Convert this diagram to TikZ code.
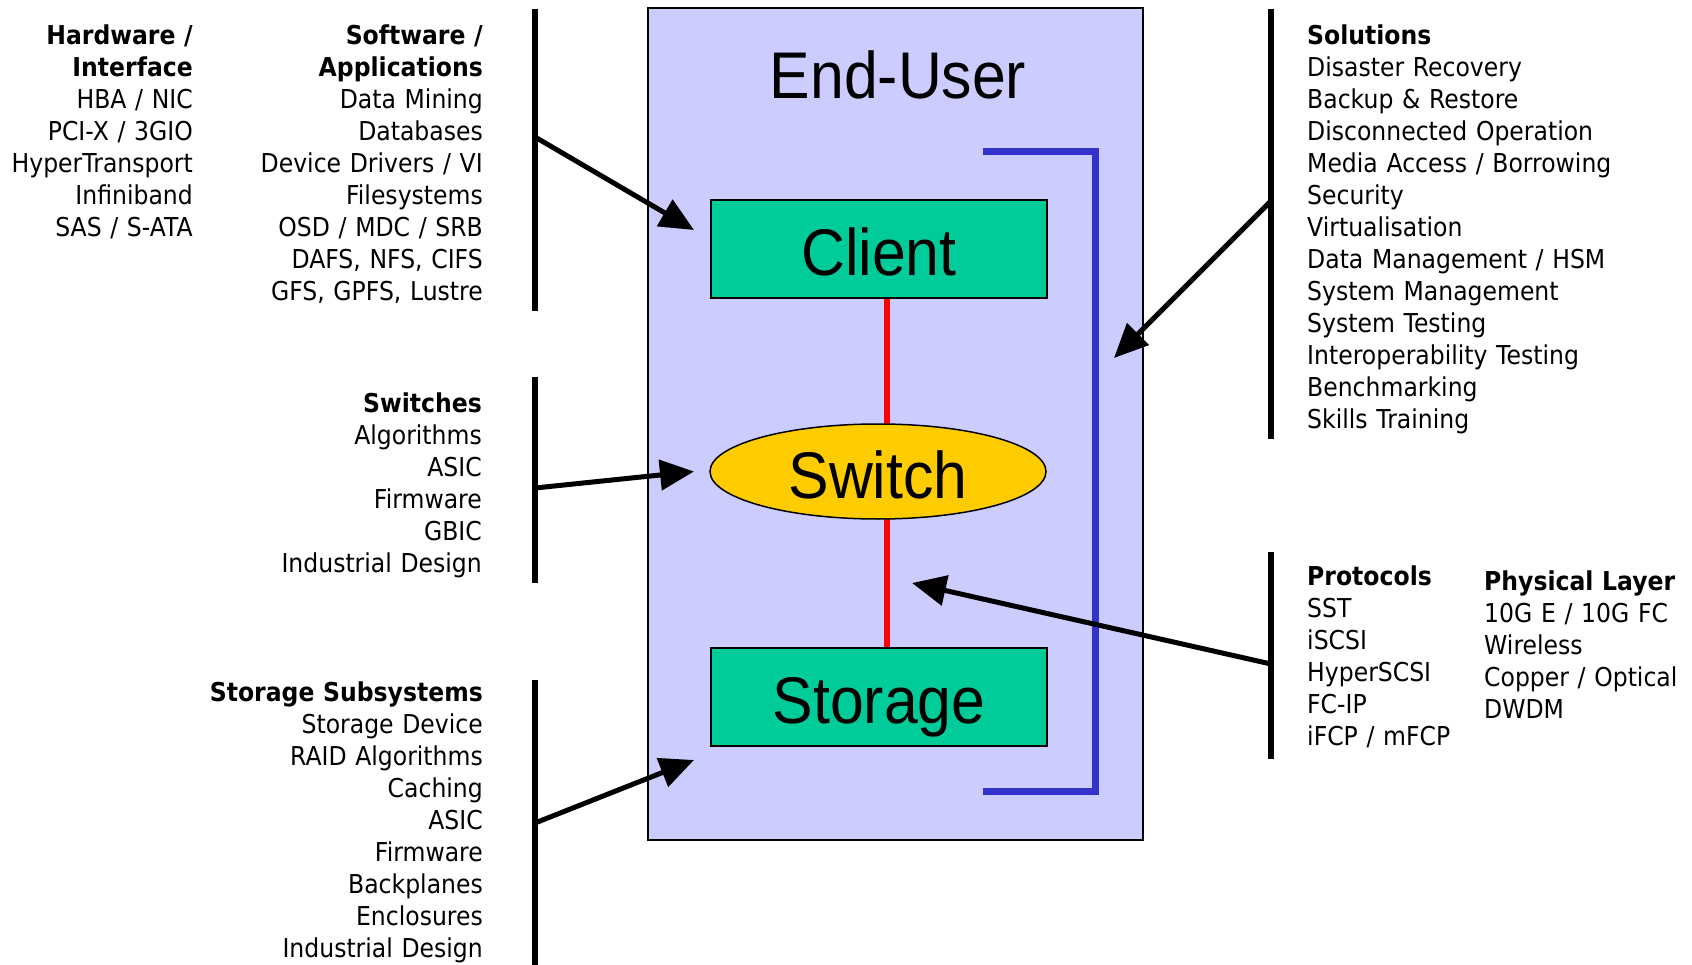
\documentclass[tikz,border=0pt]{standalone}
\usepackage{fontspec}
\setmainfont{DejaVu Sans}[FakeStretch=0.905]
\newfontfamily\bigfont{Liberation Sans}[FakeStretch=0.92]
\usetikzlibrary{arrows.meta,shapes.geometric}
\definecolor{userfill}{HTML}{CCCCFF}
\definecolor{boxgreen}{HTML}{00CC99}
\definecolor{switchgold}{HTML}{FFCC00}
\definecolor{loopblue}{HTML}{3333CC}
\tikzset{
  listtext/.style={inner sep=0pt, text width=320pt,
    font=\fontsize{26}{32}\selectfont},
  rlist/.style={listtext, align=right, anchor=base east},
  llist/.style={listtext, align=left, anchor=base west},
  bar/.style={line width=6pt},
  feed/.style={line width=5pt, -{Triangle[length=34pt,width=30pt]}},
  bigtext/.style={font=\bigfont\fontsize{66}{66}\selectfont},
  unit/.style={draw, line width=2pt, fill=boxgreen, minimum width=336pt,
    minimum height=98pt, bigtext, text height=54pt, text depth=0pt},
}
\begin{document}
\begin{tikzpicture}[x=1pt,y=-1pt]
\useasboundingbox (0,0) rectangle (1692,965);

% End-user frame
\node[draw, line width=2pt, fill=userfill, minimum width=495pt,
  minimum height=831pt, inner sep=0pt] (enduser) at (895,424) {};
\node[bigtext, anchor=base, inner sep=0pt] (title) at (898,99) {End-User};

% Red links (drawn under the components)
\coordinate (linktop) at (887,298);
\coordinate (linkbot) at (887,647);
\draw[red, line width=6pt] (linktop) -- (linkbot);

% Components
\node[unit] (client) at (879,249) {Client};
\node[ellipse, draw, line width=1.5pt, fill=switchgold, minimum width=336pt,
  minimum height=95pt, inner sep=0pt, bigtext, text height=54pt,
  text depth=0pt] (switch) at (878,471.5) {Switch};
\node[unit] (storage) at (879,696.5) {Storage};

% Blue bracket on the right
\coordinate (bt1) at (983,152);
\coordinate (bt2) at (1095,152);
\coordinate (bt3) at (1095,791);
\coordinate (bt4) at (983,791);
\draw[loopblue, line width=7pt] (bt1) -- (bt2) -- (bt3) -- (bt4);

% Left-hand lists
\node[rlist] (hw) at (193,45) {\textbf{Hardware /}\\\textbf{Interface}\\HBA / NIC\\PCI-X / 3GIO\\HyperTransport\\Infiniband\\SAS / S-ATA};
\node[rlist] (sw) at (483,45) {\textbf{Software /}\\\textbf{Applications}\\Data Mining\\Databases\\Device Drivers / VI\\Filesystems\\OSD / MDC / SRB\\DAFS, NFS, CIFS\\GFS, GPFS, Lustre};
\node[rlist] (swi) at (482,413) {\textbf{Switches}\\Algorithms\\ASIC\\Firmware\\GBIC\\Industrial Design};
\node[rlist] (sto) at (483,701) {\textbf{Storage Subsystems}\\Storage Device\\RAID Algorithms\\Caching\\ASIC\\Firmware\\Backplanes\\Enclosures\\Industrial Design};

% Right-hand lists
\node[llist] (sol) at (1307,45) {\textbf{Solutions}\\Disaster Recovery\\Backup \& Restore\\Disconnected Operation\\Media Access / Borrowing\\Security\\Virtualisation\\Data Management / HSM\\System Management\\System Testing\\Interoperability Testing\\Benchmarking\\Skills Training};
\node[llist] (pro) at (1307,585.5) {\textbf{Protocols}\\SST\\iSCSI\\HyperSCSI\\FC-IP\\iFCP / mFCP};
\node[llist] (phy) at (1484,590) {\textbf{Physical Layer}\\10G E / 10G FC\\Wireless\\Copper / Optical\\DWDM};

% Bars
\coordinate (b1t) at (535,9);    \coordinate (b1b) at (535,311);
\coordinate (b2t) at (535,377);  \coordinate (b2b) at (535,583);
\coordinate (b3t) at (535,680);  \coordinate (b3b) at (535,965);
\coordinate (b4t) at (1271,9);   \coordinate (b4b) at (1271,439);
\coordinate (b5t) at (1271,552); \coordinate (b5b) at (1271,759);
\draw[bar] (b1t) -- (b1b);
\draw[bar] (b2t) -- (b2b);
\draw[bar] (b3t) -- (b3b);
\draw[bar] (b4t) -- (b4b);
\draw[bar] (b5t) -- (b5b);

% Arrows from the bars
\coordinate (a1s) at (535,137);  \coordinate (a1e) at (694,230);
\coordinate (a2s) at (535,488);  \coordinate (a2e) at (694,471.5);
\coordinate (a3s) at (535,823);  \coordinate (a3e) at (694,760);
\coordinate (a4s) at (1271,201); \coordinate (a4e) at (1114,358);
\coordinate (a5s) at (1271,664); \coordinate (a5e) at (912,583);
\draw[feed] (a1s) -- (a1e);
\draw[feed] (a2s) -- (a2e);
\draw[feed] (a3s) -- (a3e);
\draw[feed] (a4s) -- (a4e);
\draw[feed] (a5s) -- (a5e);
\end{tikzpicture}
\end{document}
